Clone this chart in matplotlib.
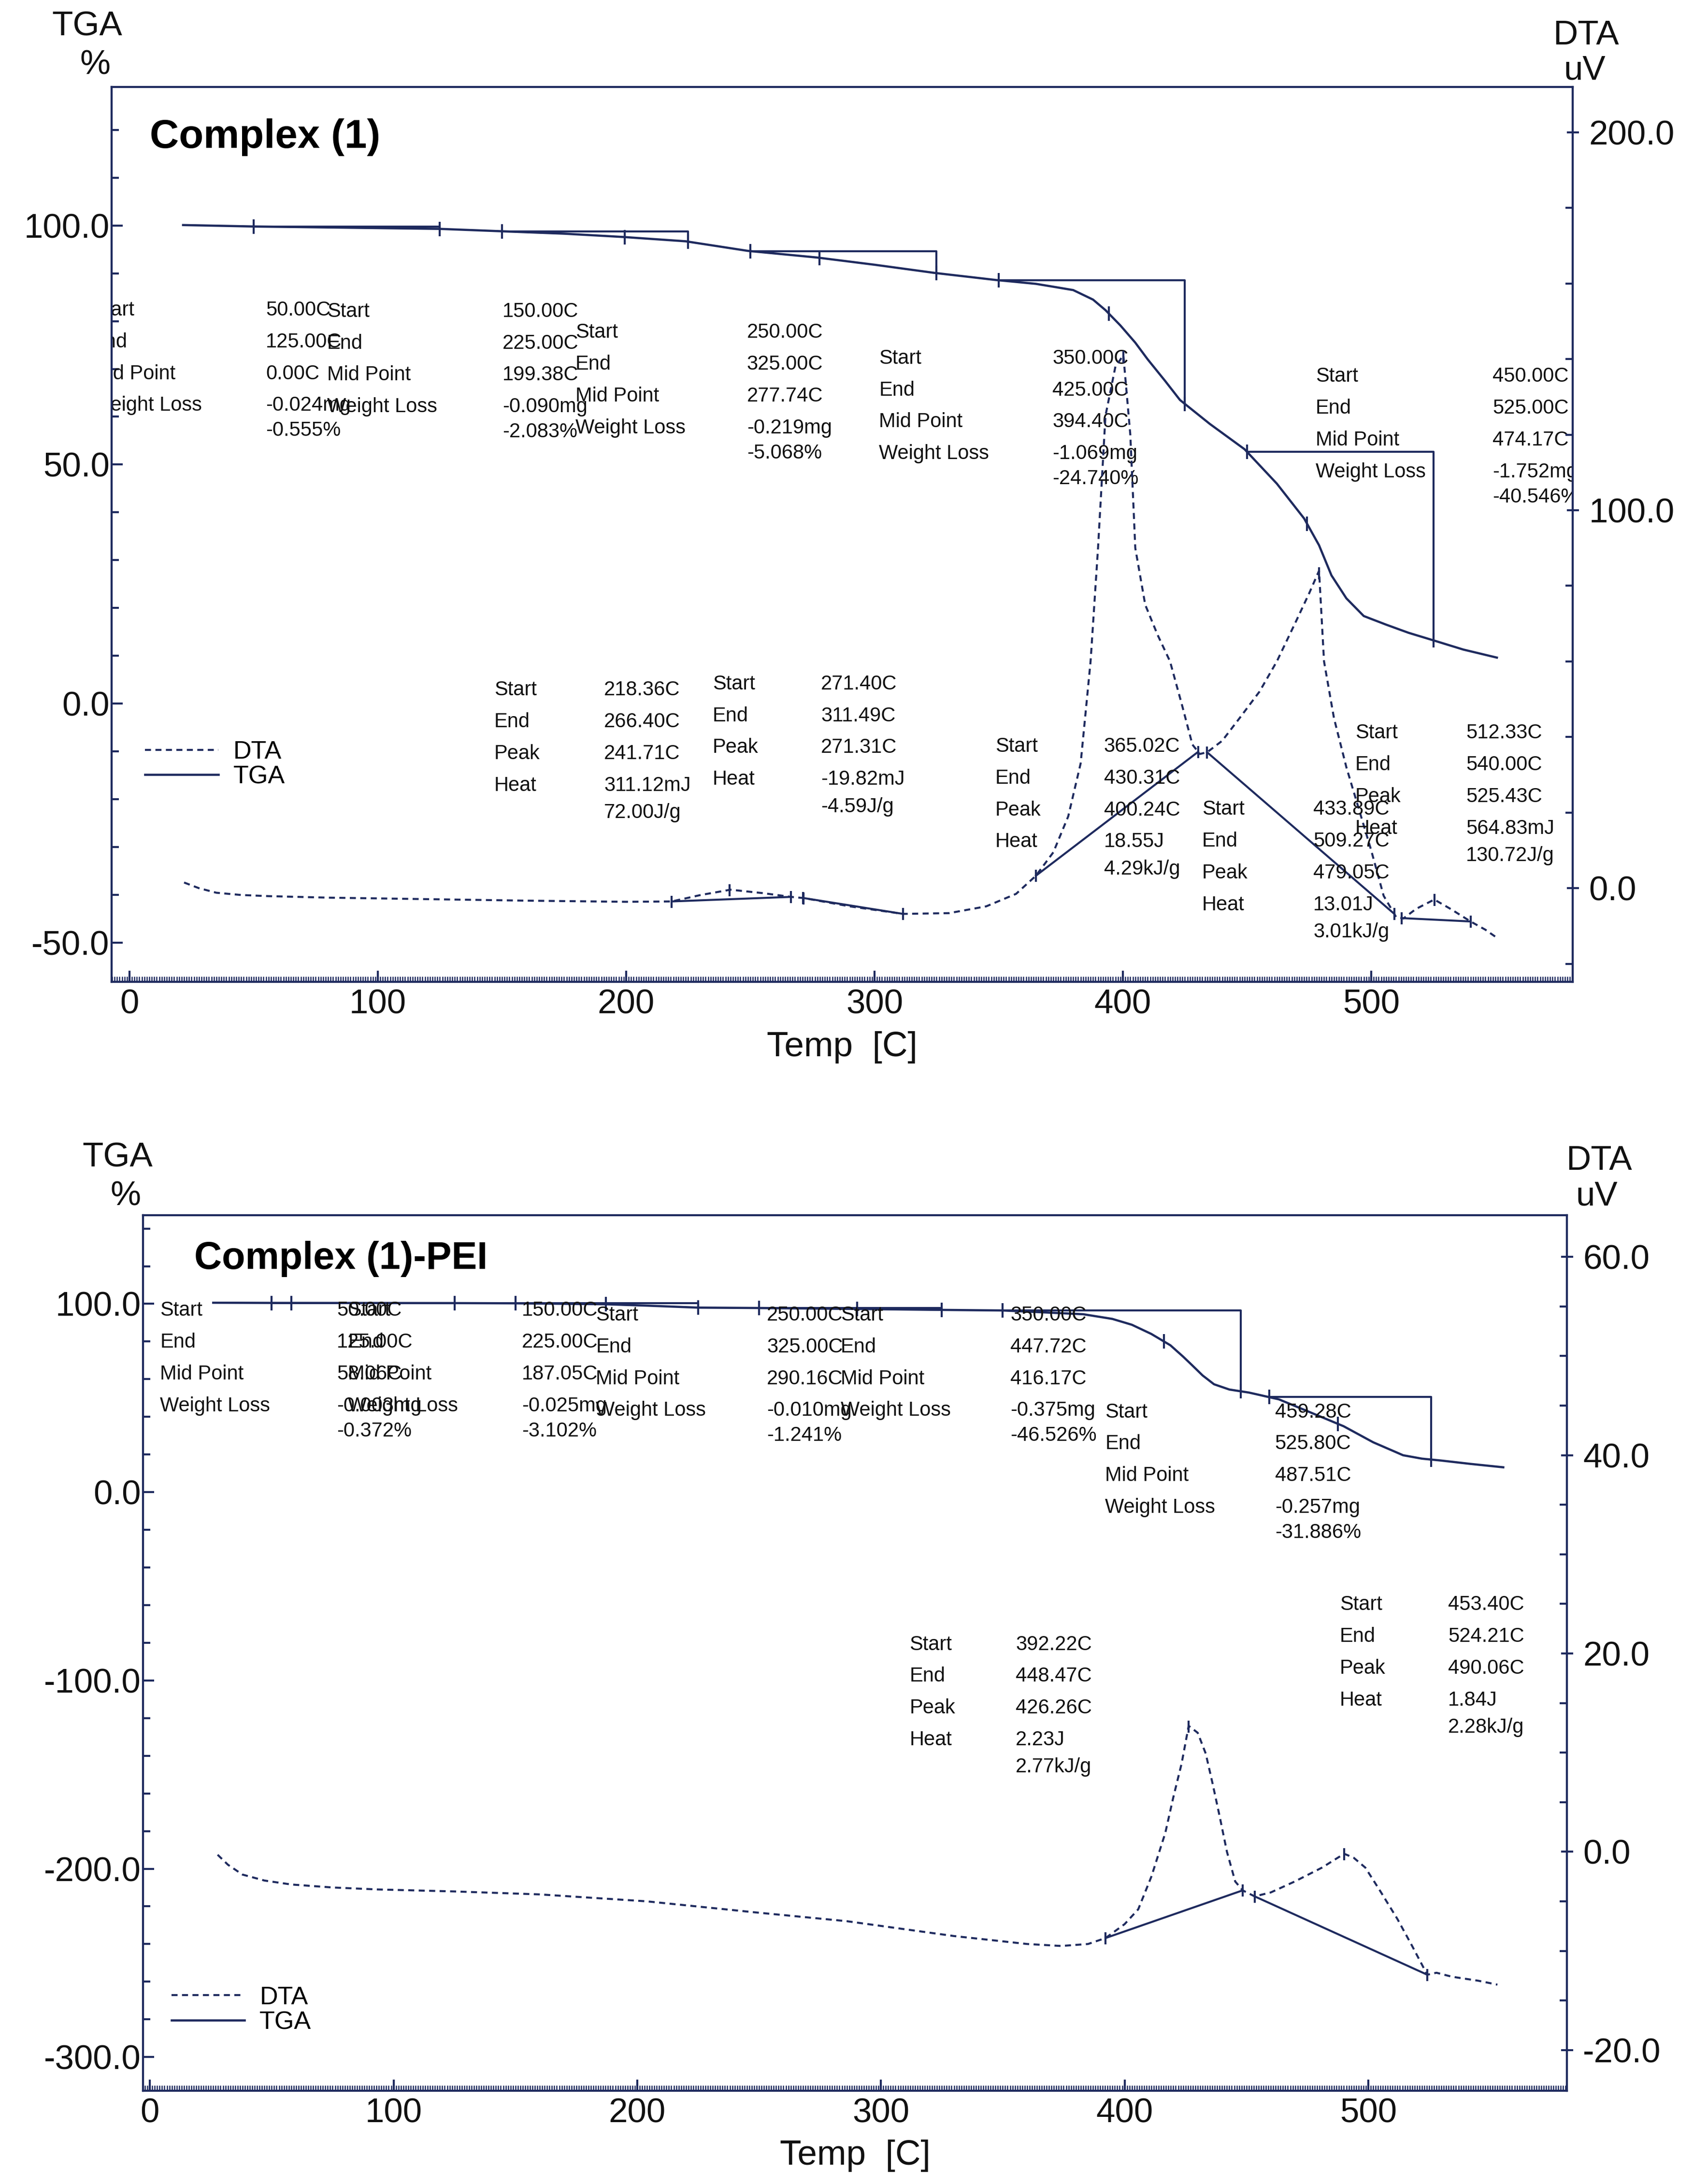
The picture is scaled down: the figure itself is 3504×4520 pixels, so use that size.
#%% Import library
import numpy as np
import matplotlib.pyplot as plt
from matplotlib.ticker import MultipleLocator, FormatStrFormatter
from matplotlib.transforms import offset_copy

#%% chart style
plt.rcParams['font.family'] = ['Liberation Sans', 'DejaVu Sans']
plt.rcParams['figure.dpi'] = 300
NAVY = '#1e2a5e'
INK = '#111111'

#%% Complex (1) data
top_tga_temp = [21.6, 50, 80, 125, 150, 175, 199, 224, 249, 277, 300, 324, 349, 365,
                380, 388, 393, 399, 405, 410, 417, 423, 435, 449, 462, 473, 479, 484,
                490, 497, 506, 515, 524.5, 537, 550.6]
top_tga_val = [100.1, 99.8, 99.6, 99.3, 98.8, 98.3, 97.6, 96.7, 94.7, 93.3, 91.8, 90.1,
               88.6, 87.8, 86.5, 84.5, 82.3, 79.1, 75.5, 72.0, 67.5, 63.5, 58.5, 53.2,
               46.0, 38.7, 33.1, 26.8, 22.0, 18.3, 16.5, 14.8, 13.3, 11.3, 9.6]

top_dta_temp = [22, 28, 35, 45, 56, 80, 120, 160, 200, 218.4, 230, 242, 255, 266.4,
                271.4, 290, 311.5, 330, 345, 357, 365, 372, 378, 383, 387, 390, 393,
                397, 400.2, 403, 405, 409, 414, 419, 424, 428, 431, 434, 440, 447, 455,
                462, 470, 475, 479, 481, 485, 490, 495, 500, 505, 510, 513, 518, 525.4,
                532, 540, 546, 551]
top_dta_val = [1.5, 0.0, -1.2, -1.8, -2.1, -2.5, -2.9, -3.3, -3.6, -3.5, -1.8, -0.4,
               -1.3, -2.3, -2.6, -4.8, -6.8, -6.6, -4.8, -1.5, 3.3, 9.5, 19, 33, 60, 90,
               125, 138, 141, 120, 90, 75, 67, 60, 48, 38, 35.5, 36.0, 39, 45, 52, 60,
               71, 78, 84, 60, 45, 32, 21, 10, -2, -7.6, -8.0, -5.5, -3.0, -5.5, -8.8,
               -11, -13.3]

top_step_start = [50.00, 150.00, 250.00, 350.00, 450.00]
top_step_end = [125.00, 225.00, 325.00, 425.00, 525.00]
top_step_mid = [0.00, 199.38, 277.74, 394.40, 474.17]
top_loss_mg = [-0.024, -0.090, -0.219, -1.069, -1.752]
top_loss_pct = [-0.555, -2.083, -5.068, -24.740, -40.546]

top_peak_start = [218.36, 271.40, 365.02, 433.89, 512.33]
top_peak_end = [266.40, 311.49, 430.31, 509.27, 540.00]
top_peak_top = [241.71, 271.31, 400.24, 479.05, 525.43]
top_heat = ['311.12mJ', '-19.82mJ', '18.55J', '13.01J', '564.83mJ']
top_heat_g = ['72.00J/g', '-4.59J/g', '4.29kJ/g', '3.01kJ/g', '130.72J/g']

#%% Complex (1)-PEI data
bot_tga_temp = [26, 50, 125, 150, 187, 205, 225, 250, 290, 325, 350, 383, 395, 403,
                411, 418.8, 424, 427.8, 432, 436.7, 443, 451, 463.3, 476, 489.9, 502,
                514.3, 522, 529.8, 542, 555.4]
bot_tga_val = [100.6, 100.5, 100.4, 100.3, 99.8, 99.0, 98.0, 97.8, 97.3, 96.8, 96.5,
               94.5, 92.0, 88.9, 84.0, 78.0, 72.0, 67.3, 62.0, 57.3, 54.5, 52.9, 49.3,
               42.5, 35.0, 26.5, 19.6, 17.8, 16.8, 15.0, 13.2]

bot_dta_temp = [27.8, 32, 38, 47, 58, 75, 93.5, 125, 160, 204, 248, 286, 330, 360,
                374, 385, 392.2, 400, 405.6, 411, 416.7, 420, 423.4, 426.3, 430, 433.3,
                436, 438.9, 442, 445.4, 448.5, 453.4, 460, 469.8, 481, 490.1, 494,
                498.8, 505, 512, 518, 524.2, 528, 534.3, 545, 553]
bot_dta_val = [-0.3, -1.3, -2.3, -2.9, -3.3, -3.6, -3.8, -4.0, -4.3, -5.0, -6.1, -7.0,
               -8.5, -9.3, -9.5, -9.3, -8.7, -7.3, -5.8, -2.5, 1.9, 5.5, 8.9, 12.7,
               12.0, 9.9, 7.0, 3.7, 0.0, -3.0, -3.9, -4.5, -4.1, -3.0, -1.6, -0.2,
               -0.6, -1.6, -4.0, -6.8, -9.5, -12.4, -12.2, -12.6, -13.0, -13.4]

bot_step_start = [50.00, 150.00, 250.00, 350.00, 459.28]
bot_step_end = [125.00, 225.00, 325.00, 447.72, 525.80]
bot_step_mid = [58.06, 187.05, 290.16, 416.17, 487.51]
bot_loss_mg = [-0.003, -0.025, -0.010, -0.375, -0.257]
bot_loss_pct = [-0.372, -3.102, -1.241, -46.526, -31.886]

bot_peak_start = [392.22, 453.40]
bot_peak_end = [448.47, 524.21]
bot_peak_top = [426.26, 490.06]
bot_heat = ['2.23J', '1.84J']
bot_heat_g = ['2.77kJ/g', '2.28kJ/g']

tga_rows = ['Start', 'End', 'Mid Point', 'Weight Loss']
dta_rows = ['Start', 'End', 'Peak', 'Heat']

#%% where the text blocks sit: (label x, value x, y) in data units
top_tga_pos = [(-15.2, 54.9, 82.3), (79.6, 150.2, 82.0), (179.6, 248.6, 77.6),
               (301.8, 371.6, 72.2), (477.6, 548.8, 68.4)]
top_dta_pos = [(146.9, 191.1, 52.4), (234.8, 278.4, 54.0), (348.6, 392.4, 37.5),
               (431.9, 476.7, 20.8), (493.6, 538.1, 41.0)]
bot_tga_pos = [(4.2, 76.7, 96.5), (81.3, 152.7, 96.5), (183.0, 253.2, 94.0),
               (283.5, 353.1, 94.0), (392.0, 461.7, 42.5)]
bot_dta_pos = [(311.7, 355.3, 20.9), (488.3, 532.7, 24.9)]

fig = plt.figure(figsize=(3504 / 300, 4520 / 300), dpi=300)


def draw_block(ax, pos, rows, values, tail_gap):
    xl, xv, y = pos
    step = 15.8
    for i, t in enumerate(rows):
        tr = offset_copy(ax.transData, fig=fig, y=-i * step, units='points')
        ax.text(xl, y, t, transform=tr, fontsize=10, color=INK, va='center',
                ha='left', clip_on=True)
    for i, t in enumerate(values):
        off = i * step if i < 4 else 3 * step + tail_gap
        tr = offset_copy(ax.transData, fig=fig, y=-off, units='points')
        ax.text(xv, y, t, transform=tr, fontsize=10, color=INK, va='center',
                ha='left', clip_on=True)


def draw_steps(ax, temp, val, starts, ends, mids):
    a = np.interp(starts, temp, val)
    b = np.interp(ends, temp, val)
    for s, e, ya, yb in zip(starts, ends, a, b):
        ax.plot([s, e, e], [ya, ya, yb], color=NAVY, lw=1.0)
    marks = list(starts) + list(ends) + [m for m in mids if m > 0]
    ax.plot(marks, np.interp(marks, temp, val), ls='none', marker='|', ms=7,
            mew=1.0, color=NAVY)


def draw_peaks(ax, temp, val, starts, ends, peaks):
    for s, e in zip(starts, ends):
        ax.plot([s, e], np.interp([s, e], temp, val), color=NAVY, lw=1.0)
    marks = list(starts) + list(ends) + list(peaks)
    ax.plot(marks, np.interp(marks, temp, val), ls='none', marker='|', ms=6,
            mew=1.0, color=NAVY)


def style(ax, ax2, xlim, ylim, y2lim, ymaj, ymin, y2maj, y2min):
    ax.set_xlim(*xlim)
    ax.set_ylim(*ylim)
    ax2.set_ylim(*y2lim)
    ax.xaxis.set_major_locator(MultipleLocator(100))
    ax.xaxis.set_minor_locator(MultipleLocator(1))
    ax.yaxis.set_major_locator(MultipleLocator(ymaj))
    ax.yaxis.set_minor_locator(MultipleLocator(ymin))
    ax2.yaxis.set_major_locator(MultipleLocator(y2maj))
    ax2.yaxis.set_minor_locator(MultipleLocator(y2min))
    ax.yaxis.set_major_formatter(FormatStrFormatter('%.1f'))
    ax2.yaxis.set_major_formatter(FormatStrFormatter('%.1f'))
    ax.tick_params(axis='x', which='major', direction='in', length=5.5, width=1.0,
                   pad=3.5, labelsize=17, color=NAVY, labelcolor=INK)
    ax.tick_params(axis='x', which='minor', direction='in', length=2.6, width=0.6,
                   color=NAVY)
    ax.tick_params(axis='y', which='major', direction='in', length=5.5, width=1.0,
                   pad=1, labelsize=17, color=NAVY, labelcolor=INK)
    ax.tick_params(axis='y', which='minor', direction='in', length=3.6, width=1.0,
                   color=NAVY)
    ax2.tick_params(axis='y', which='major', direction='inout', length=6, width=1.0,
                    pad=5, labelsize=17, color=NAVY, labelcolor=INK)
    ax2.tick_params(axis='y', which='minor', direction='in', length=3.6, width=1.0,
                    color=NAVY)
    for a in (ax, ax2):
        for sp in a.spines.values():
            sp.set_color(NAVY)
            sp.set_linewidth(1.0)
    ax.set_xlabel('Temp  [C]', fontsize=17.5, color=INK, labelpad=5)


def panel(rect, title, title_xy, title_size, tga_t, tga_v, dta_t, dta_v,
          steps, loss, peaks, heats, tga_pos, dta_pos, leg_xy):
    ax = fig.add_axes(rect)
    ax2 = ax.twinx()
    ax.plot(tga_t, tga_v, color=NAVY, lw=1.1, label='TGA')
    dta_line, = ax2.plot(dta_t, dta_v, color=NAVY, lw=1.0, ls=(0, (3, 2.2)),
                         label='DTA')
    draw_steps(ax, tga_t, tga_v, *steps)
    draw_peaks(ax2, dta_t, dta_v, *peaks)
    starts, ends, mids = steps
    for i in range(len(starts)):
        vals = [f'{starts[i]:.2f}C', f'{ends[i]:.2f}C', f'{mids[i]:.2f}C',
                f'{loss[0][i]:.3f}mg', f'{loss[1][i]:.3f}%']
        draw_block(ax, tga_pos[i], tga_rows, vals, 12.5)
    p_s, p_e, p_p = peaks
    for i in range(len(p_s)):
        vals = [f'{p_s[i]:.2f}C', f'{p_e[i]:.2f}C', f'{p_p[i]:.2f}C',
                heats[0][i], heats[1][i]]
        draw_block(ax2, dta_pos[i], dta_rows, vals, 13.5)
    ax.text(title_xy[0], title_xy[1], title, transform=ax.transAxes,
            fontsize=title_size, fontweight='bold', color='black', va='center')
    tga_proxy = plt.Line2D([], [], color=NAVY, lw=1.1)
    ax2.legend([dta_line, tga_proxy], ['DTA', 'TGA'], loc='upper left',
               bbox_to_anchor=leg_xy, frameon=False, fontsize=12.5,
               handlelength=2.9, handletextpad=0.6, labelspacing=0.05,
               borderpad=0, borderaxespad=0)
    return ax, ax2


#%% Top panel: Complex (1)
ax, ax2 = panel([0.0659, 0.5504, 0.8630, 0.4098], 'Complex (1)', (0.026, 0.944), 20,
                top_tga_temp, top_tga_val, top_dta_temp, top_dta_val,
                (top_step_start, top_step_end, top_step_mid),
                (top_loss_mg, top_loss_pct),
                (top_peak_start, top_peak_end, top_peak_top),
                (top_heat, top_heat_g), top_tga_pos, top_dta_pos, (0.023, 0.270))
style(ax, ax2, (-7.2, 581.1), (-58.25, 129.0), (-24.8, 212.0), 50, 10, 100, 20)

#%% Bottom panel: Complex (1)-PEI
bx, bx2 = panel([0.0845, 0.0427, 0.8410, 0.4009], 'Complex (1)-PEI', (0.036, 0.950), 19,
                bot_tga_temp, bot_tga_val, bot_dta_temp, bot_dta_val,
                (bot_step_start, bot_step_end, bot_step_mid),
                (bot_loss_mg, bot_loss_pct),
                (bot_peak_start, bot_peak_end, bot_peak_top),
                (bot_heat, bot_heat_g), bot_tga_pos, bot_dta_pos, (0.020, 0.120))
style(bx, bx2, (-2.8, 581.5), (-317.9, 147.1), (-24.1, 64.2), 100, 20, 20, 5)

#%% axis unit labels
for x, y, t in [(0.0514, 0.9878, 'TGA'), (0.0562, 0.9701, '%'),
                (0.9369, 0.9836, 'DTA'), (0.9361, 0.9675, 'uV'),
                (0.0693, 0.4699, 'TGA'), (0.0742, 0.4520, '%'),
                (0.9446, 0.4684, 'DTA'), (0.9432, 0.4520, 'uV')]:
    fig.text(x, y, t, fontsize=17, color=INK, ha='center', va='center')

fig.savefig('out.png', dpi=300, facecolor='white')
